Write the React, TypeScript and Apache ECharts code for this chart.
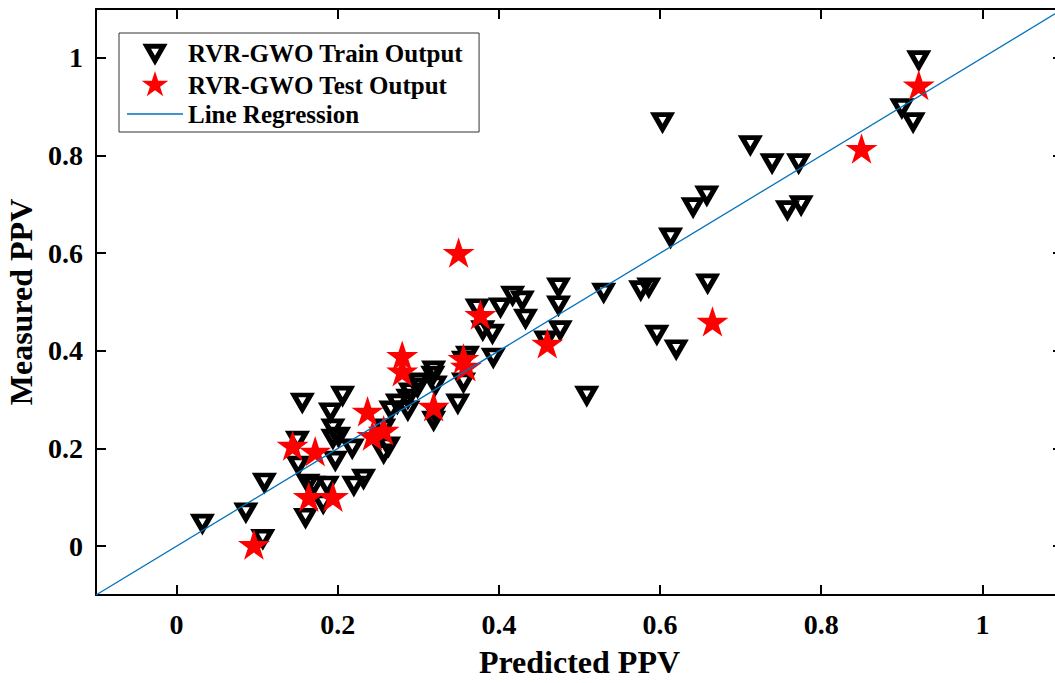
import React, { useEffect, useRef } from "react";
import * as echarts from "echarts";

// ---- data ----
const trainPredicted = [
  0.032, 0.086, 0.107, 0.109, 0.156, 0.15, 0.151, 0.16, 0.163, 0.17, 0.187, 0.182,
  0.191, 0.206, 0.194, 0.194, 0.201, 0.197, 0.218, 0.22, 0.232, 0.257, 0.266, 0.274,
  0.287, 0.287, 0.29, 0.299, 0.3, 0.318, 0.319, 0.321, 0.321, 0.319, 0.349, 0.356,
  0.356, 0.361, 0.373, 0.38, 0.392, 0.393, 0.402, 0.417, 0.429, 0.433, 0.458, 0.474,
  0.474, 0.476, 0.509, 0.53, 0.576, 0.586, 0.596, 0.62, 0.659, 0.603, 0.613, 0.641,
  0.658, 0.712, 0.739, 0.772, 0.758, 0.775, 0.9, 0.914, 0.921, 0.257, 0.263,
];
const trainMeasured = [
  0.047, 0.07, 0.016, 0.131, 0.295, 0.217, 0.166, 0.059, 0.129, 0.125, 0.125, 0.088,
  0.275, 0.309, 0.242, 0.221, 0.225, 0.176, 0.201, 0.125, 0.139, 0.191, 0.279, 0.293,
  0.303, 0.279, 0.316, 0.326, 0.336, 0.35, 0.361, 0.33, 0.273, 0.258, 0.293, 0.336,
  0.381, 0.391, 0.488, 0.443, 0.436, 0.387, 0.49, 0.514, 0.504, 0.467, 0.422, 0.531,
  0.494, 0.443, 0.309, 0.52, 0.525, 0.531, 0.434, 0.404, 0.539, 0.869, 0.633, 0.695,
  0.719, 0.822, 0.785, 0.785, 0.689, 0.699, 0.898, 0.869, 0.996, 0.242, 0.205,
];
const testPredicted = [
  0.096, 0.144, 0.172, 0.164, 0.194, 0.237, 0.243, 0.257, 0.28, 0.28, 0.319, 0.35,
  0.356, 0.359, 0.377, 0.46, 0.665, 0.85, 0.921,
];
const testMeasured = [
  0.0, 0.203, 0.191, 0.098, 0.098, 0.273, 0.223, 0.234, 0.387, 0.355, 0.283, 0.598,
  0.381, 0.365, 0.471, 0.412, 0.457, 0.811, 0.941,
];
const regressionX = [-0.1, 1.1];
const regressionY = [-0.1, 1.1];
const tickValues = [0, 0.2, 0.4, 0.6, 0.8, 1];
const seriesNames = ["RVR-GWO Train Output", "RVR-GWO Test Output", "Line Regression"];
const xTitle = "Predicted PPV";
const yTitle = "Measured PPV";

const FONT = "'Liberation Serif', 'Times New Roman', serif";
const TRI = "path://M0,0 L16.5,0 L8.25,14.3 Z";
const TRI_LEGEND = "path://M-5.75,-6.85 M0,0 L16.5,0 L8.25,14.3 Z M22.25,21.15";
const STAR =
  "path://M10,0 L12.245,6.91 L19.511,6.91 L13.633,11.18 L15.878,18.09 L10,13.82 L4.122,18.09 L6.367,11.18 L0.489,6.91 L7.755,6.91 Z M10,20";
const LINE_ICON = "path://M0,0 L56,0 L56,1.4 L0,1.4 Z";

export default function App() {
  const ref = useRef<HTMLDivElement>(null);
  useEffect(() => {
    if (!ref.current) return;
    const chart = echarts.init(ref.current, undefined, { renderer: "svg" });
    const frame = { show: true, onZero: false, lineStyle: { color: "#000", width: 2 } };
    const tick = { show: true, inside: true, length: 10, customValues: tickValues, lineStyle: { color: "#000", width: 2 } };
    const labelBase = { fontFamily: FONT, fontWeight: "bold" as const, fontSize: 28, color: "#000" };
    chart.setOption({
      animation: false,
      backgroundColor: "#fff",
      grid: { left: 96, top: 9, width: 967, height: 586, containLabel: false, outerBoundsMode: "none" },
      legend: {
        orient: "vertical",
        left: 119,
        top: 33,
        padding: [4, 16, 4, 8],
        itemWidth: 56,
        itemHeight: 28,
        itemGap: 1,
        backgroundColor: "#fff",
        borderColor: "#333",
        borderWidth: 1,
        textStyle: { fontFamily: FONT, fontWeight: "bold", fontSize: 25, lineHeight: 28, color: "#000" },
        data: [
          {
            name: seriesNames[0],
            icon: TRI_LEGEND,
            itemStyle: { color: "rgba(255,255,255,0)", borderColor: "#000", borderWidth: 5 },
          },
          { name: seriesNames[1], icon: STAR, itemStyle: { color: "#ff0000", borderWidth: 0 } },
          { name: seriesNames[2], icon: LINE_ICON, itemStyle: { color: "#0072BD", borderWidth: 0 } },
        ],
      },
      xAxis: [
        {
          type: "value",
          min: -0.1,
          max: 1.1,
          position: "bottom",
          axisLine: frame,
          axisTick: tick,
          splitLine: { show: false },
          axisLabel: { ...labelBase, margin: 15, customValues: tickValues, formatter: (v: number) => String(v) },
          name: xTitle,
          nameLocation: "middle",
          nameGap: 51,
          nameTextStyle: { fontFamily: FONT, fontWeight: "bold", fontSize: 32, color: "#000" },
        },
        {
          type: "value",
          min: -0.1,
          max: 1.1,
          position: "top",
          axisLine: frame,
          axisTick: tick,
          splitLine: { show: false },
          axisLabel: { show: false },
        },
      ],
      yAxis: [
        {
          type: "value",
          min: -0.1,
          max: 1.1,
          position: "left",
          axisLine: frame,
          axisTick: tick,
          splitLine: { show: false },
          axisLabel: { ...labelBase, margin: 13, customValues: tickValues, formatter: (v: number) => String(v) },
          name: yTitle,
          nameLocation: "middle",
          nameGap: 56,
          nameRotate: 90,
          nameTextStyle: { fontFamily: FONT, fontWeight: "bold", fontSize: 32, color: "#000" },
        },
        {
          type: "value",
          min: -0.1,
          max: 1.1,
          position: "right",
          axisLine: frame,
          axisTick: tick,
          splitLine: { show: false },
          axisLabel: { show: false },
        },
      ],
      series: [
        {
          name: seriesNames[0],
          type: "scatter",
          symbol: TRI,
          symbolSize: [16.5, 14.3],
          data: trainPredicted.map((x, i) => [x, trainMeasured[i]]),
          itemStyle: { color: "rgba(255,255,255,0)", borderColor: "#000", borderWidth: 5, opacity: 1 },
        },
        {
          name: seriesNames[1],
          type: "scatter",
          symbol: STAR,
          symbolSize: [32, 33.6],
          data: testPredicted.map((x, i) => [x, testMeasured[i]]),
          itemStyle: { color: "#ff0000", borderWidth: 0, opacity: 1 },
        },
        {
          name: seriesNames[2],
          type: "line",
          symbol: "none",
          data: regressionX.map((x, i) => [x, regressionY[i]]),
          lineStyle: { color: "#0072BD", width: 1.3 },
          itemStyle: { color: "#0072BD" },
        },
      ],
    });
    return () => chart.dispose();
  }, []);
  return (
    <div
      ref={ref}
      style={{ position: "absolute", left: 0, top: 0, width: 1055, height: 683, background: "#fff" }}
    />
  );
}
